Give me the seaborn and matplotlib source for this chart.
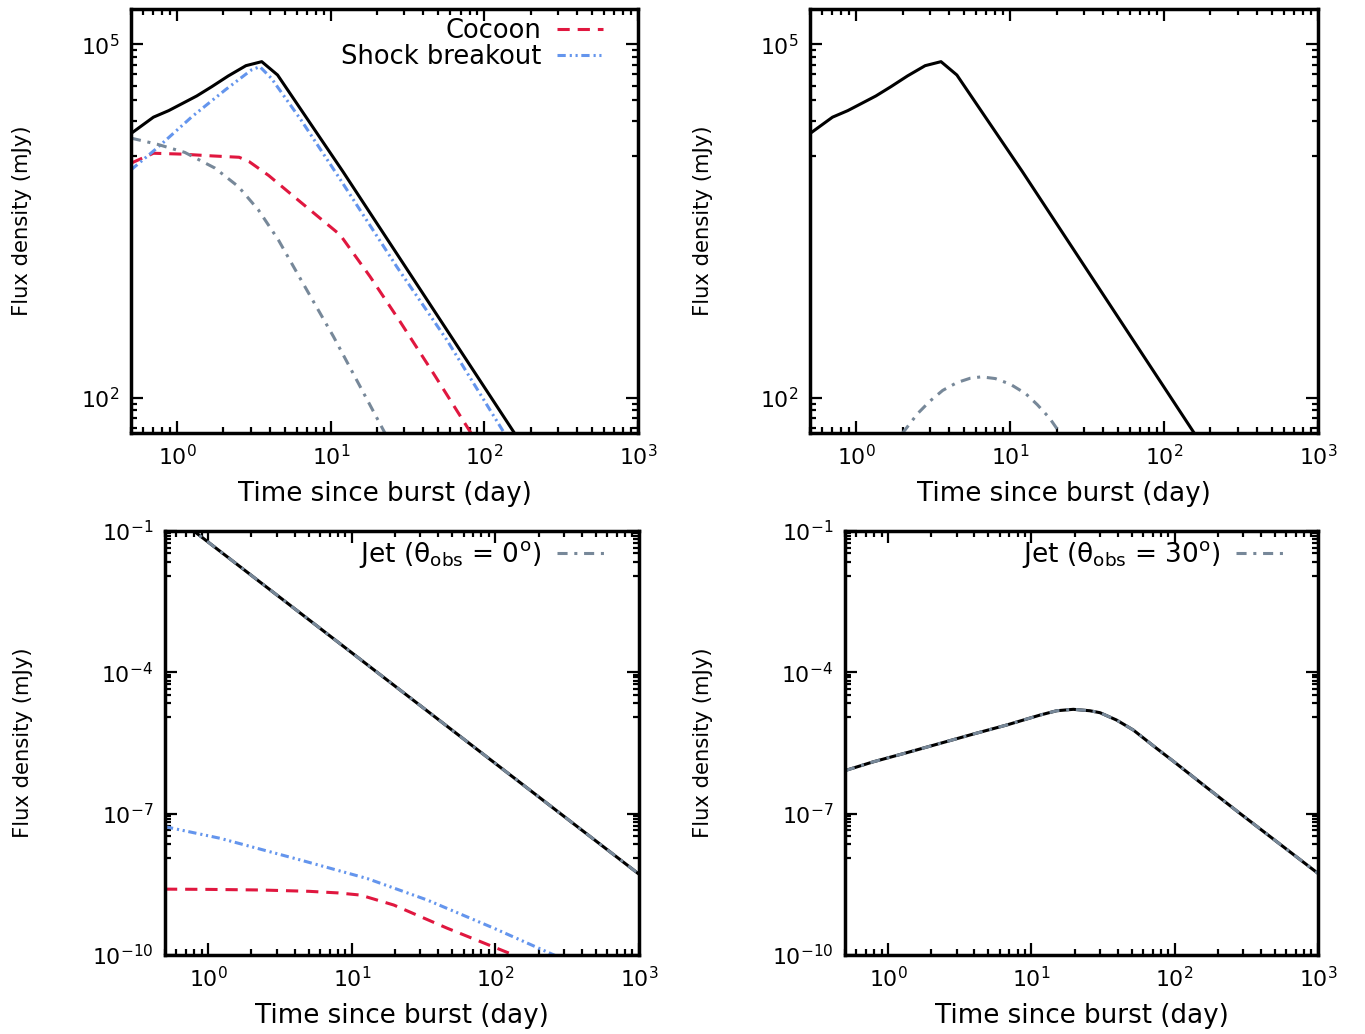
import matplotlib
matplotlib.use("Agg")
import matplotlib.pyplot as plt
import seaborn as sns
from matplotlib.ticker import FixedLocator, FixedFormatter, LogLocator, NullFormatter

# ---------------- data ----------------
# top panels: total (black)
t_total_top = [0.5, 0.7, 0.88, 1.07, 1.34, 1.68, 2.15, 2.8, 3.55, 4.5, 12.0, 160.0]
f_total_top = [17500, 24100, 27400, 31300, 36500, 43800, 54000, 66000, 71400, 55000, 8300, 48]

# top-left: cocoon (red)
t_cocoon_tl = [0.5, 0.7, 1.07, 1.68, 2.53, 2.94, 3.94, 6.2, 11.5, 18.0, 28.2, 46.5, 80.5, 100.0]
f_cocoon_tl = [9800, 11900, 11700, 11300, 11000, 10100, 7700, 4700, 2410, 1067, 443, 161, 51.6, 33]

# top-left: shock breakout (blue)
t_shock_tl = [0.5, 0.735, 1.25, 2.05, 3.04, 3.45, 4.1, 6.4, 11.2, 26.8, 56.8, 132.6, 150.0]
f_shock_tl = [8600, 13100, 24400, 41000, 60700, 64700, 51600, 22800, 7540, 1300, 310, 51.6, 40]

# top-left: jet (gray)
t_jet_tl = [0.5, 0.74, 1.12, 1.76, 2.5, 3.37, 4.55, 6.3, 10.4, 22.5, 30.0]
f_jet_tl = [16000, 14200, 12100, 8900, 6200, 3940, 2190, 1035, 330, 50, 25]

# top-right: jet (gray)
t_jet_tr = [1.6, 2.0, 2.5, 3.0, 3.64, 4.5, 5.5, 6.5, 8.0, 10.0, 12.6, 15.0, 18.0, 20.4, 24.0]
f_jet_tr = [32, 50, 73, 93, 115, 134, 146, 150, 145, 130, 108, 87, 67, 53, 39]

# bottom-left: jet on-axis (= total)
t_jet_bl = [0.5, 1.0, 10.0, 100.0, 1000.0]
f_jet_bl = [0.296, 0.058, 2.6e-4, 1.16e-6, 5.2e-9]

# bottom-left: shock breakout (blue)
t_shock_bl = [0.5, 1.21, 4.38, 12.8, 33.5, 97.7, 256.0, 320.0]
f_shock_bl = [5.3e-8, 3.0e-8, 1.04e-8, 4.2e-9, 1.47e-9, 3.7e-10, 1.0e-10, 7e-11]

# bottom-left: cocoon (red)
t_cocoon_bl = [0.5, 1.0, 2.3, 5.0, 8.0, 11.5, 19.6, 46.2, 124.0, 160.0]
f_cocoon_bl = [2.5e-9, 2.47e-9, 2.4e-9, 2.25e-9, 2.08e-9, 1.87e-9, 1.15e-9, 3.7e-10, 1.1e-10, 7.5e-11]

# bottom-right: jet off-axis (= total)
t_jet_br = [0.5, 0.787, 1.35, 2.3, 3.93, 6.7, 11.5, 15.0, 19.6, 25.6, 30.1, 39.3, 45.0, 51.4,
            74.5, 97.7, 167.0, 285.6, 1000.0]
f_jet_br = [8.2e-7, 1.26e-6, 1.97e-6, 3.1e-6, 4.9e-6, 7.6e-6, 1.24e-5, 1.53e-5, 1.64e-5, 1.53e-5,
            1.39e-5, 9.7e-6, 7.6e-6, 5.96e-6, 2.45e-6, 1.3e-6, 3.6e-7, 1.01e-7, 5.4e-9]

x_major = [1, 10, 100, 1000]
x_labels = [r'$\mathregular{10^{0}}$', r'$\mathregular{10^{1}}$', r'$\mathregular{10^{2}}$', r'$\mathregular{10^{3}}$']
y_major_top = [1e2, 1e5]
y_labels_top = [r'$\mathregular{10^{2}}$', r'$\mathregular{10^{5}}$']
y_major_bot = [1e-10, 1e-7, 1e-4, 1e-1]
y_labels_bot = [r'$\mathregular{10^{-10}}$', r'$\mathregular{10^{-7}}$', r'$\mathregular{10^{-4}}$', r'$\mathregular{10^{-1}}$']

xlabel = "Time since burst (day)"
ylabel = "Flux density (mJy)"
label_cocoon = "Cocoon"
label_shock = "Shock breakout"
label_jet0 = r'Jet ($\mathregular{\theta_{obs}}$ = 0$\mathregular{^{o}}$)'
label_jet30 = r'Jet ($\mathregular{\theta_{obs}}$ = 30$\mathregular{^{o}}$)'

# ---------------- style ----------------
sns.set_theme(style="white")
plt.rcParams.update({
    "font.family": ["DejaVu Sans"],
    "mathtext.fontset": "dejavusans",
    "axes.linewidth": 2.5,
    "axes.edgecolor": "black",
    "xtick.direction": "in", "ytick.direction": "in",
    "xtick.bottom": True, "xtick.top": True,
    "ytick.left": True, "ytick.right": True,
    "xtick.major.size": 8.5, "ytick.major.size": 8.5,
    "xtick.minor.size": 4.3, "ytick.minor.size": 4.3,
    "xtick.major.width": 1.6, "ytick.major.width": 1.6,
    "xtick.minor.width": 1.6, "ytick.minor.width": 1.6,
    "xtick.color": "black", "ytick.color": "black",
    "xtick.labelsize": 15.8, "ytick.labelsize": 15.8,
    "xtick.major.pad": 8, "ytick.major.pad": 8.5,
    "text.color": "black", "axes.labelcolor": "black",
})

BLACK = "black"
RED = "#E0173F"
BLUE = "#6495ED"
GRAY = "#778899"
LW = 2.2
LS_SOLID = "-"
LS_RED = (0, (4.0, 2.6))
LS_BLUE = (0, (2.7, 1.3, 0.7, 1.2, 0.7, 1.2))
LS_GRAY = (0, (3.3, 2.2, 1.0, 2.2))

fig = plt.figure(figsize=(13.65, 10.34), dpi=100)
fig.patch.set_facecolor("white")

H = 0.41006
axes_pos = {
    "tl": [0.09597, 0.58124, 0.37143, H],
    "tr": [0.59341, 0.58124, 0.37216, H],
    "bl": [0.12088, 0.07640, 0.34725, H],
    "br": [0.61905, 0.07640, 0.34652, H],
}
ylabel_x = {"tl": -0.215, "tr": -0.211, "bl": -0.300, "br": -0.300}


def draw(ax, x, y, color, ls, label=None):
    sns.lineplot(x=x, y=y, ax=ax, color=color, linewidth=LW, linestyle=ls,
                 estimator=None, sort=False, legend=False, label=label)


def gnuplot_minor(majors, lo, hi):
    vals = []
    for a, b in zip(majors[:-1], majors[1:]):
        step = (b - a) / 9.0
        vals += [a + k * step for k in range(1, 9)]
    return [v for v in vals if lo <= v <= hi]


def style(ax, key, top):
    ax.set_xscale("log")
    ax.set_yscale("log")
    ax.set_xlim(0.5, 1000)
    ax.xaxis.set_major_locator(FixedLocator(x_major))
    ax.xaxis.set_major_formatter(FixedFormatter(x_labels))
    ax.xaxis.set_minor_locator(LogLocator(base=10, subs=[2, 3, 4, 5, 6, 7, 8, 9]))
    ax.xaxis.set_minor_formatter(NullFormatter())
    if top:
        ax.set_ylim(50, 2e5)
        ax.yaxis.set_major_locator(FixedLocator(y_major_top))
        ax.yaxis.set_major_formatter(FixedFormatter(y_labels_top))
        ax.yaxis.set_minor_locator(FixedLocator(gnuplot_minor([1e-1, 1e2, 1e5, 1e8], 50, 2e5)))
    else:
        ax.set_ylim(1e-10, 1e-1)
        ax.yaxis.set_major_locator(FixedLocator(y_major_bot))
        ax.yaxis.set_major_formatter(FixedFormatter(y_labels_bot))
        ax.yaxis.set_minor_locator(FixedLocator(gnuplot_minor(y_major_bot, 1e-10, 1e-1)))
    ax.yaxis.set_minor_formatter(NullFormatter())
    ax.tick_params(which="both", direction="in", top=True, right=True, bottom=True, left=True)
    ax.set_xlabel(xlabel, fontsize=18.8)
    ax.set_ylabel(ylabel, fontsize=15.2)
    ax.xaxis.label.set_va("center")
    ax.xaxis.set_label_coords(0.5, -0.143)
    ax.yaxis.label.set_va("center")
    ax.yaxis.set_label_coords(ylabel_x[key], 0.5)
    for s in ax.spines.values():
        s.set_visible(True)
        s.set_color("black")
        s.set_linewidth(2.5)
    ax.set_facecolor("white")


def add_legend(ax, labels, anchor, fs):
    lines = [l for l in ax.get_lines() if l.get_label() in labels]
    lines.sort(key=lambda l: labels.index(l.get_label()))
    ax.legend(lines, labels, loc="upper right", bbox_to_anchor=anchor, frameon=False,
              markerfirst=False, fontsize=fs, handlelength=1.8, handletextpad=0.6,
              labelspacing=0.0, borderpad=0.0, borderaxespad=0.0)


# top-left
ax = fig.add_axes(axes_pos["tl"])
draw(ax, t_total_top, f_total_top, BLACK, LS_SOLID)
draw(ax, t_cocoon_tl, f_cocoon_tl, RED, LS_RED, label_cocoon)
draw(ax, t_shock_tl, f_shock_tl, BLUE, LS_BLUE, label_shock)
draw(ax, t_jet_tl, f_jet_tl, GRAY, LS_GRAY)
style(ax, "tl", True)
add_legend(ax, [label_cocoon, label_shock], (0.931, 0.978), 18.5)

# top-right
ax = fig.add_axes(axes_pos["tr"])
draw(ax, t_total_top, f_total_top, BLACK, LS_SOLID)
draw(ax, t_jet_tr, f_jet_tr, GRAY, LS_GRAY)
style(ax, "tr", True)

# bottom-left
ax = fig.add_axes(axes_pos["bl"])
draw(ax, t_jet_bl, f_jet_bl, BLACK, LS_SOLID)
draw(ax, t_cocoon_bl, f_cocoon_bl, RED, LS_RED)
draw(ax, t_shock_bl, f_shock_bl, BLUE, LS_BLUE)
draw(ax, t_jet_bl, f_jet_bl, GRAY, LS_GRAY, label_jet0)
style(ax, "bl", False)
add_legend(ax, [label_jet0], (0.928, 0.98), 19)

# bottom-right
ax = fig.add_axes(axes_pos["br"])
draw(ax, t_jet_br, f_jet_br, BLACK, LS_SOLID)
draw(ax, t_jet_br, f_jet_br, GRAY, LS_GRAY, label_jet30)
style(ax, "br", False)
add_legend(ax, [label_jet30], (0.928, 0.98), 19)

fig.savefig("out.png", dpi=100, facecolor="white")
